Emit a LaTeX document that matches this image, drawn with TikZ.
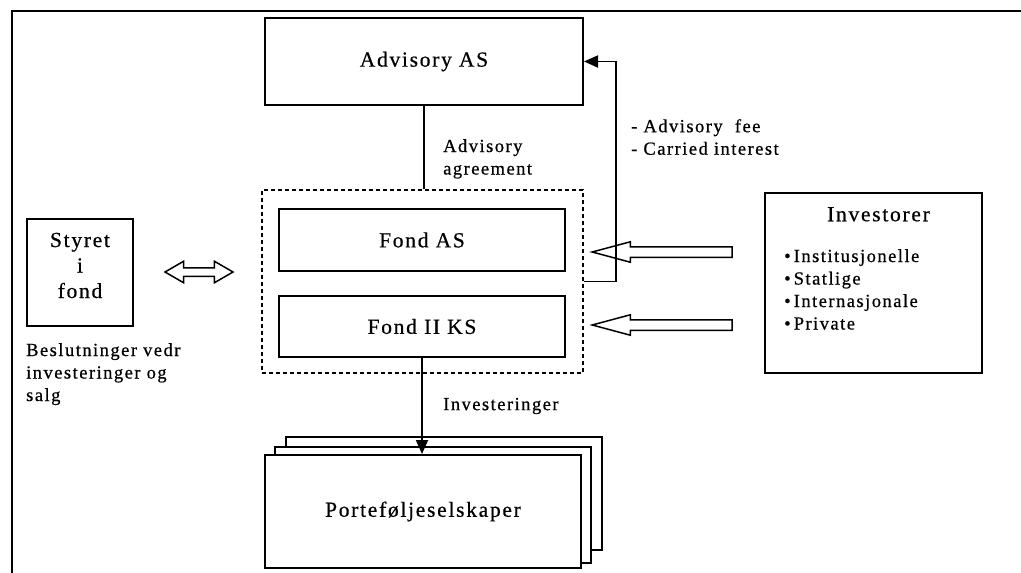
\documentclass[tikz,border=0pt]{standalone}
\usepackage{fontspec}
\setmainfont{Liberation Serif}[LetterSpace=8, FakeBold=0.6]
\usetikzlibrary{arrows.meta,positioning,shapes.arrows}
\tikzset{
  box/.style={shape=rectangle, draw=black, line width=2pt, font=\fontsize{21.5}{25.5}\selectfont, align=center},
  stack/.style={box, fill=white, minimum width=316pt},
  txt/.style={inner sep=0pt, align=left, font=\fontsize{18.5}{22.5}\selectfont},
  link/.style={line width=1.8pt},
  hollow/.style={draw=black, line width=1.5pt, single arrow, shape border rotate=180, single arrow tip angle=30, single arrow head extend=5pt, inner sep=4.5pt, minimum width=19pt, minimum height=140pt},
}
\begin{document}
\begin{tikzpicture}[x=1pt, y=-1pt]
\useasboundingbox (0,0) rectangle (1021,573);
\draw[line width=1.6pt] (12,573) -- (12,11) -- (1021,11);

% Advisory and the fund
\node[box, minimum width=318pt, minimum height=87pt] (adv) at (424,61.5) {Advisory AS};
\node[draw=black, line width=1.2pt, dash pattern=on 4pt off 3pt, minimum width=321pt, minimum height=183pt] (fond) at (422.5,281.5) {};
\node[box, minimum width=286pt, minimum height=62pt] (fondas) at (422,240) {Fond AS};
\node[box, minimum width=286pt, minimum height=61pt] (fondks) at (422,326.5) {Fond II KS};

% board
\node[box, minimum width=106pt, minimum height=107pt] (styret) at (80,272.5) {};
\node[align=center, inner sep=0pt, font=\fontsize{21.5}{25.5}\selectfont] (styrettxt) at ([yshift=7pt]styret.center) {Styret\\i\\fond};
\node[txt, anchor=north west] (besl) at ([yshift=-16pt]styret.south west) {Beslutninger vedr\\investeringer og\\salg};
\node[draw=black, line width=1.5pt, double arrow, double arrow tip angle=60, double arrow head extend=6.5pt, inner sep=3.5pt, minimum width=20pt, minimum height=68pt] (dbl) at (199,272) {};

% investors
\node[box, minimum width=217pt, minimum height=180pt] (inv) at (873.5,283) {};
\node[inner sep=0pt, anchor=north, font=\fontsize{21.5}{25.5}\selectfont] (invtitle) at ([xshift=5pt,yshift=-15pt]inv.north) {Investorer};
\node[txt, anchor=north west] (invlist) at ([xshift=20pt,yshift=-57pt]inv.north west) {\textbullet\,Institusjonelle\\\textbullet\,Statlige\\\textbullet\,Internasjonale\\\textbullet\,Private};
\node[hollow] (in1) at (672,252) {};
\node[hollow] (in2) at (672,325) {};

% portfolio companies
\node[stack, minimum height=113pt] (port3) at (444,493.5) {};
\node[stack, minimum height=116pt] (port2) at (433,505) {};
\node[stack, minimum height=113pt] (port1) at (423,511.5) {Porteføljeselskaper};

% connectors
\draw[link] (adv.south) -- (adv.south |- fond.north);
\node[txt, anchor=north west] (agr) at ([xshift=19pt,yshift=-33pt]adv.south) {Advisory\\agreement};
\draw[link, -{Triangle[length=14pt,width=12pt]}] (fond.east) -- ++(32,0) |- (adv.east);
\node[txt, anchor=north west] (fee) at (631,119) {- Advisory\ \ fee\\- Carried interest};
\draw[link, -{Triangle[length=14pt,width=12pt]}] (fondks.south) -- (fondks.south |- port1.north);
\node[txt, anchor=west] (invest) at (443,406) {Investeringer};
\end{tikzpicture}
\end{document}
